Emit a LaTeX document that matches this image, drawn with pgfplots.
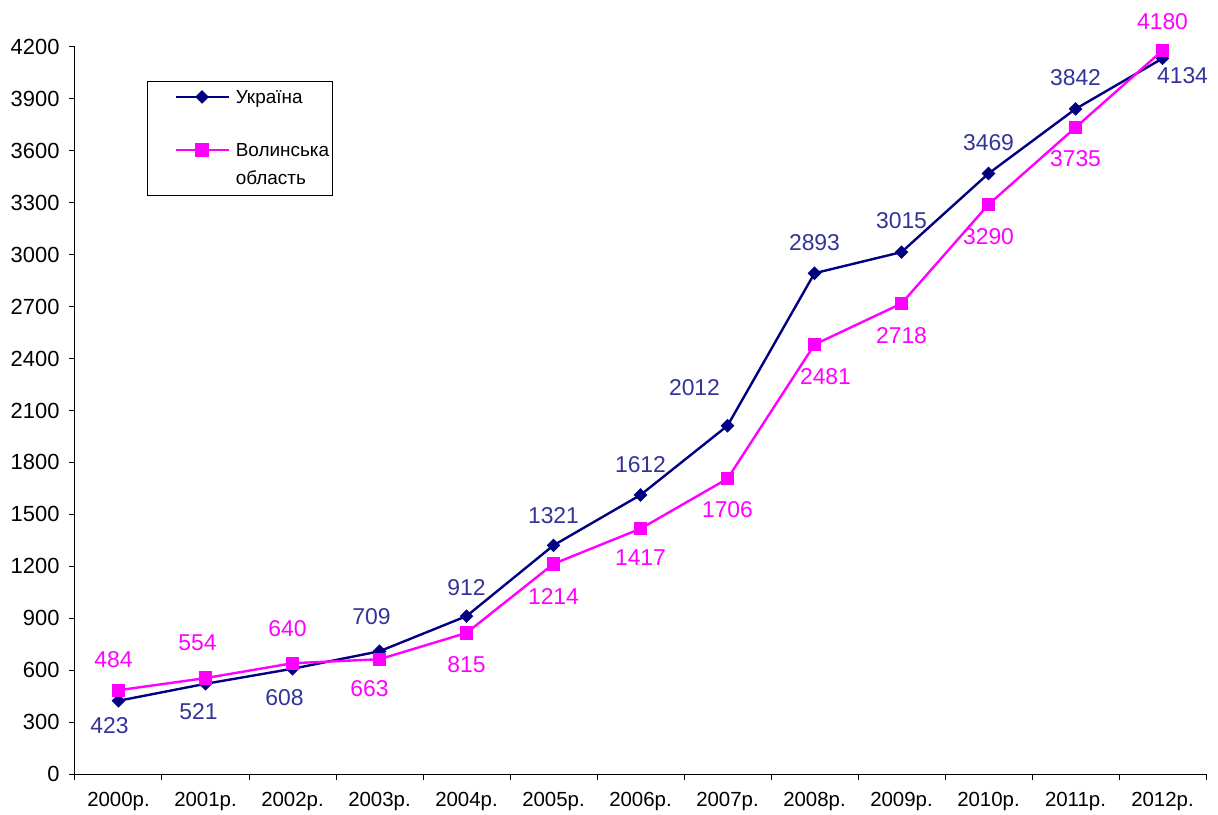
\documentclass[border=0pt]{standalone}
\usepackage{fontspec}
\setmainfont{Liberation Sans}
\usepackage{pgfplots}
\pgfplotsset{compat=1.18}
\usepackage{pgfplotstable}
\definecolor{ukr}{HTML}{000080}
\definecolor{ukrlab}{HTML}{333399}
\definecolor{vol}{HTML}{FF00FF}

\pgfplotstableread{
x y dx dy
0 423 -9 -25
1 521 -7 -28
2 608 -8 -29
3 709 -8 35
4 912 0 29
5 1321 0 30
6 1612 0 30
7 2012 -33 38
8 2893 0 31
9 3015 0 31
10 3469 0 31
11 3842 0 31
12 4134 20 -17
}\ukrtab

\pgfplotstableread{
x y dx dy
0 484 -5 31
1 554 -8 35
2 640 -5 35
3 663 -10 -29
4 815 0 -32
5 1214 0 -33
6 1417 0 -29
7 1706 0 -31
8 2481 11 -32
9 2718 0 -32
10 3290 0 -32
11 3735 0 -31
12 4180 0 29
}\voltab

\begin{document}
\begin{tikzpicture}
\pgfplotsset{/pgf/number format/.cd, 1000 sep={}, assume math mode=true}
\path (-75bp,-37bp) rectangle (1143bp,774bp);
\begin{axis}[
  at={(0,0)}, anchor=south west,
  scale only axis, width=1131bp, height=727bp,
  xmin=-0.5, xmax=12.5, ymin=0, ymax=4200,
  axis lines=left,
  axis line style={-, black, line width=1bp},
  clip=false,
  ytick={0,300,...,4200},
  scaled y ticks=false,
  tick align=outside,
  major tick length=6bp,
  minor tick length=6bp,
  xtick={0,...,12},
  xticklabels={2000р.,2001р.,2002р.,2003р.,2004р.,2005р.,2006р.,2007р.,2008р.,2009р.,2010р.,2011р.,2012р.},
  major x tick style={draw=none},
  minor xtick={-0.5,0.5,...,12.5},
  minor x tick style={black, line width=1bp},
  y tick style={black, line width=1bp},
  yticklabel style={font=\fontsize{22}{25}\selectfont, xshift=-6bp},
  xticklabel style={font=\fontsize{20.5}{24}\selectfont, yshift=-9bp},
  legend style={at={(0.06366,0.95323)}, anchor=north west, draw=black, line width=0.8bp,
    font=\fontsize{19}{22}\selectfont, row sep=8bp, inner xsep=0pt, inner ysep=7.5bp,
    column sep=6bp, cells={anchor=base west}, nodes={inner xsep=0pt}},
  legend image code/.code={\path (-27bp,0bp); \draw[mark repeat=2, mark phase=2, #1] plot coordinates {(0bp,0bp) (26.5bp,0bp) (53bp,0bp)};},
  legend image post style={yshift=7bp},
  visualization depends on={\thisrow{dx} \as \dx},
  visualization depends on={\thisrow{dy} \as \dy},
  nodes near coords,
  every node near coord/.append style={anchor=center, xshift=\dx bp, yshift=\dy bp, font=\fontsize{23}{26}\selectfont},
]
\addplot[color=ukr, line width=2.4bp, mark=square*, mark size=3.6bp,
  mark options={rotate=45, solid, fill=ukr},
  nodes near coords style={text=ukrlab}] table[x=x, y=y] {\ukrtab};
\addlegendentry{\makebox[97bp][l]{Україна}}
\addlegendimage{legend image code/.code={\path (-27bp,0bp) (53bp,0bp);}}
\addlegendentry{\makebox[97bp][l]{\phantom{У}}}
\addplot[color=vol, line width=2.4bp, mark=square*, mark size=5.5bp,
  mark options={solid, fill=vol},
  nodes near coords style={text=vol}] table[x=x, y=y] {\voltab};
\addlegendentry{\makebox[97bp][l]{Волинська}}
\addlegendimage{legend image code/.code={\path (-27bp,0bp) (53bp,0bp);}}
\addlegendentry{\makebox[97bp][l]{область}}
\end{axis}
\end{tikzpicture}
\end{document}
